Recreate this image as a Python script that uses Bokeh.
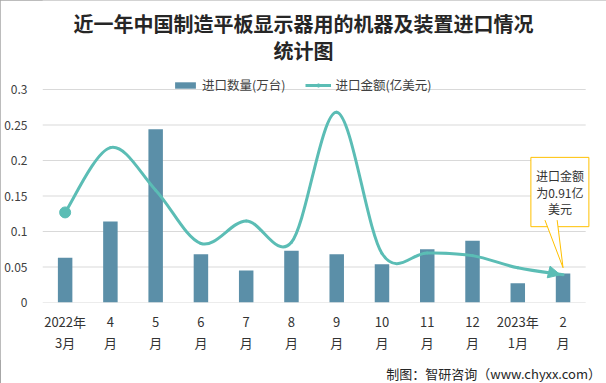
from bokeh.plotting import figure
from bokeh.layouts import column
from bokeh.models import (Range1d, FixedTicker, Label, Legend, LegendItem, Arrow,
                          NormalHead, ColumnDataSource, Div)
from bokeh.embed import file_html
from bokeh.resources import INLINE

# ---------------- data ----------------
months = ["2022年3月", "4月", "5月", "6月", "7月", "8月", "9月", "10月", "11月", "12月", "2023年1月", "2月"]
tick_labels = ["2022年\n3月", "4\n月", "5\n月", "6\n月", "7\n月", "8\n月", "9\n月", "10\n月",
               "11\n月", "12\n月", "2023年\n1月", "2\n月"]
qty = [0.063, 0.114, 0.244, 0.068, 0.045, 0.073, 0.068, 0.054, 0.075, 0.087, 0.027, 0.041]   # 进口数量(万台)
amt = [2.96, 5.09, 3.69, 1.94, 2.68, 1.98, 6.25, 1.61, 1.63, 1.54, 1.14, 0.91]              # 进口金额(亿美元)
y_ticks = [0, 0.05, 0.1, 0.15, 0.2, 0.25, 0.3]
y_tick_labels = ["0", "0.05", "0.1", "0.15", "0.2", "0.25", "0.3"]
title1 = "近一年中国制造平板显示器用的机器及装置进口情况"
title2 = "统计图"
note = "进口金额\n为0.91亿\n美元"
source_text = "制图：智研咨询（www.chyxx.com）"

BAR = "#5B8FA8"
LINE = "#5BBDB5"
GRID = "#D9D9D9"
FONT = "Noto Sans CJK SC"

xs = list(range(len(months)))
ymax_axis = y_ticks[-1]
# the frame also covers the title / legend area (texts inside the frame are not clipped);
# the value axis itself runs 0 .. 0.3 with ticks only there
y_top = ymax_axis * 302 / 213

p = figure(width=606, height=360, output_backend="svg", toolbar_location=None,
           x_range=Range1d(-0.5, 11.96), y_range=Range1d(0, y_top),
           min_border_left=42, min_border_right=0, min_border_top=0, min_border_bottom=58)
p.extra_y_ranges = {"amt": Range1d(0, 7 * y_top / ymax_axis)}
p.outline_line_color = None
p.background_fill_color = "white"
p.border_fill_color = "white"

# axes
p.xaxis.ticker = FixedTicker(ticks=xs)
p.xaxis.major_label_overrides = {i: t for i, t in enumerate(tick_labels)}
p.xaxis.major_tick_line_color = None
p.xaxis.minor_tick_line_color = None
p.xaxis.axis_line_color = None
p.xaxis.major_label_text_font = FONT
p.xaxis.major_label_text_font_size = "13px"
p.xaxis.major_label_text_color = "#333333"
p.xaxis.major_label_standoff = 3
p.xaxis.major_label_text_line_height = 1.12

p.yaxis.ticker = FixedTicker(ticks=y_ticks)
p.yaxis.major_label_overrides = {t: l for t, l in zip(y_ticks, y_tick_labels)}
p.yaxis.axis_line_color = None
p.yaxis.major_tick_line_color = None
p.yaxis.minor_tick_line_color = None
p.yaxis.major_label_text_font = FONT
p.yaxis.major_label_text_font_size = "12px"
p.yaxis.major_label_text_color = "#404040"
p.yaxis.major_label_standoff = 9

p.xgrid.grid_line_color = None
p.ygrid.grid_line_color = None

# value gridlines over the category span only
p.segment(x0=[xs[0] - 0.5] * len(y_ticks), x1=[xs[-1] + 0.5] * len(y_ticks),
          y0=y_ticks, y1=y_ticks, line_color=GRID, line_width=1)

# bars
bars = p.vbar(x=xs, top=qty, width=0.32, fill_color=BAR, line_color=None)

# smooth line (Catmull-Rom -> cubic bezier) computed from the data points
n = len(amt)
def P(i):
    i = max(0, min(n - 1, i))
    return xs[i], amt[i]
seg = dict(x0=[], y0=[], x1=[], y1=[], cx0=[], cy0=[], cx1=[], cy1=[])
for i in range(n - 1):
    xa, ya = P(i - 1); xb, yb = P(i); xc, yc = P(i + 1); xd, yd = P(i + 2)
    seg["x0"].append(xb); seg["y0"].append(yb)
    seg["x1"].append(xc); seg["y1"].append(yc)
    seg["cx0"].append(xb + (xc - xa) / 6); seg["cy0"].append(yb + (yc - ya) / 6)
    seg["cx1"].append(xc - (xd - xb) / 6); seg["cy1"].append(yc - (yd - yb) / 6)
p.bezier(x0="x0", y0="y0", x1="x1", y1="y1", cx0="cx0", cy0="cy0", cx1="cx1", cy1="cy1",
         source=ColumnDataSource(seg), y_range_name="amt", line_color=LINE, line_width=3,
         line_cap="round")
start = p.scatter(x=xs[:1], y=amt[:1], y_range_name="amt", size=11, marker="circle",
                  fill_color=LINE, line_color=LINE)
legend_line = p.line(x=xs, y=amt, y_range_name="amt", line_color=LINE, line_width=3, visible=False)

# arrow head at the end of the curve
p.add_layout(Arrow(end=NormalHead(size=12, fill_color=LINE, line_color=LINE),
                   x_start=seg["cx1"][-1], y_start=seg["cy1"][-1], x_end=xs[-1] - 0.06,
                   y_end=amt[-1], y_range_name="amt", line_color=LINE, line_width=3))

# legend
legend = Legend(items=[LegendItem(label="进口数量(万台)", renderers=[bars]),
                       LegendItem(label="进口金额(亿美元)", renderers=[legend_line, start])],
                orientation="horizontal", location=(130, 208), padding=0, margin=0,
                spacing=20, glyph_width=26, glyph_height=8, label_standoff=4,
                label_text_font=FONT, label_text_font_size="12.5px", label_text_color="#404040",
                border_line_color=None, background_fill_alpha=0)
p.add_layout(legend, "center")

# title
for txt, yy in ((title1, 279), (title2, 252)):
    p.add_layout(Label(x=261, y=yy, x_units="screen", y_units="screen", text=txt,
                       text_align="center", text_baseline="middle", text_font=FONT,
                       text_font_size="20px", text_font_style="bold", text_color="#262626"))

# callout
cx = xs[-1] - 0.07
p.add_layout(Label(x=cx, y=0.1556, text=note, text_align="center", text_baseline="middle",
                   text_font=FONT, text_font_size="12px", text_color="#333333",
                   text_line_height=0.95, background_fill_color="white",
                   border_line_color="#FFC000", border_line_width=1, padding=(5, 10)))
tip_x, tip_y = xs[-1], qty[-1] + 0.008
base_y = 0.1172
p.patch(x=[xs[-1] - 0.40, tip_x, xs[-1] - 0.13], y=[base_y, tip_y, base_y],
        fill_color="white", line_color=None, level="overlay")
p.line(x=[xs[-1] - 0.40, tip_x, xs[-1] - 0.13], y=[base_y - 0.0012, tip_y, base_y - 0.0012],
       line_color="#FFC000", line_width=1, level="overlay")

# source line below the chart
src = Div(text=source_text, width=606, height=23,
          styles={"text-align": "right", "font-family": FONT, "font-size": "13px",
                  "color": "#262626", "padding-right": "10px", "box-sizing": "border-box",
                  "line-height": "17px", "background": "white"})

layout = column(p, src, spacing=0,
                styles={"outline": "1px solid #A6A6A6", "outline-offset": "-1px"})
open("out.html", "w").write(file_html(layout, INLINE))
